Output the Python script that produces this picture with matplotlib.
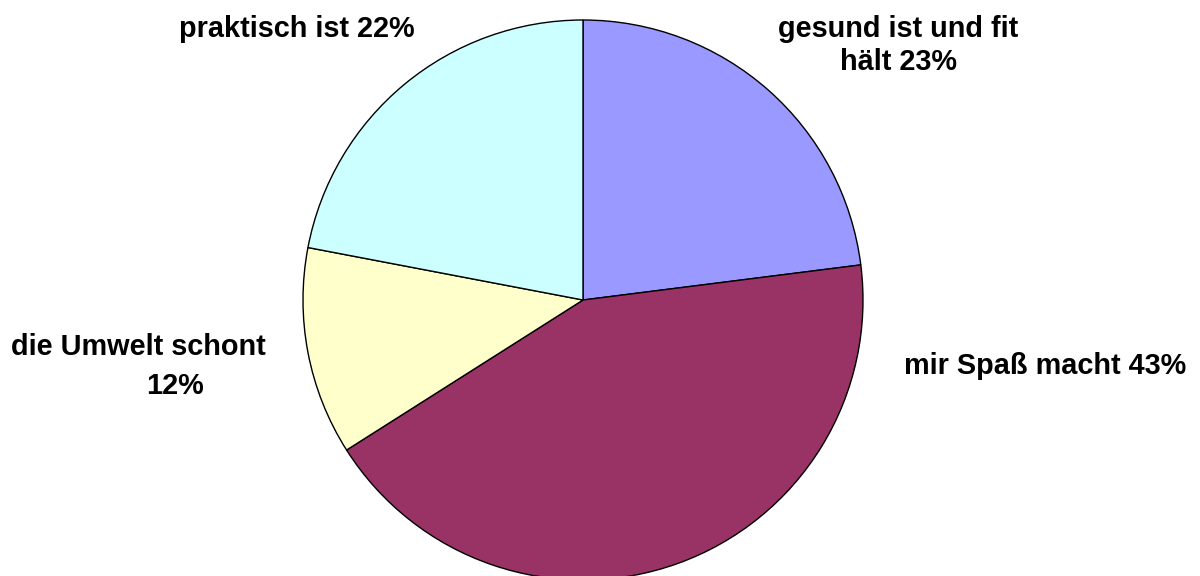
import matplotlib
matplotlib.use("Agg")
import matplotlib.pyplot as plt

# --- Daten ---
labels = ["gesund ist und fit", "mir Spaß macht", "die Umwelt schont", "praktisch ist"]
values = [23, 43, 12, 22]
colors = ["#9999FF", "#993366", "#FFFFCC", "#CCFFFF"]

# Beschriftungen: (Zeile 1 x, y), (Zeile 2 x, y) in Pixeln von oben; None = einzeilig
label_pos = [((898, 29), (898, 62)),
             ((1045, 366), None),
             ((138, 347), (175, 386)),
             ((297, 29), None)]
second_line_word = ["hält", None, "", None]

plt.rcParams['font.family'] = ['Liberation Sans', 'DejaVu Sans']

fig = plt.figure(figsize=(12, 5.76), dpi=100)
ax = fig.add_axes([0, 0, 1, 1])

ax.pie(values, colors=colors, startangle=90, counterclock=False,
       center=(583, 276), radius=280, frame=True,
       wedgeprops=dict(edgecolor='black', linewidth=1.0))

ax.set_xlim(0, 1200)
ax.set_ylim(0, 576)
ax.set_aspect('equal')
ax.axis('off')

for lab, val, (p1, p2), word2 in zip(labels, values, label_pos, second_line_word):
    if p2 is None:
        lines = [(f"{lab} {val}%", p1)]
    else:
        lines = [(lab, p1), (f"{word2} {val}%".strip(), p2)]
    for txt, (x, y) in lines:
        ax.text(x, 576 - y, txt, ha='center', va='center', fontsize=20.8,
                fontweight='bold')

fig.savefig("out.png", dpi=100, facecolor='white')
